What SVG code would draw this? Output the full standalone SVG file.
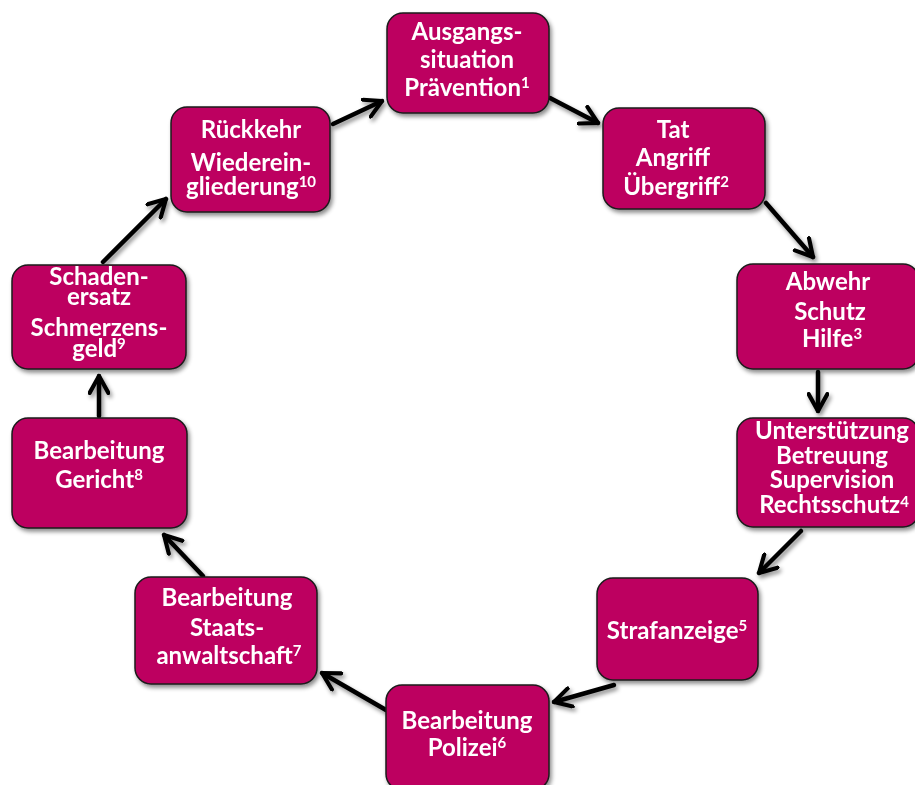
<svg xmlns="http://www.w3.org/2000/svg" width="915" height="785" viewBox="0 0 915 785">
<style>
.box{fill:#BD0060;stroke:#1a1a1a;stroke-width:1.5}
.t{font-family:Lato,"Open Sans","Liberation Sans",sans-serif;font-weight:bold;font-size:24px;fill:#fff;text-anchor:middle}
.s{font-size:15px}
.c{stroke:#000;stroke-width:4.5;fill:none;stroke-linecap:round}
</style>
<defs>
<filter id="sh" x="-10%" y="-10%" width="125%" height="125%">
<feDropShadow dx="2" dy="3" stdDeviation="2" flood-color="#000" flood-opacity="0.45"/>
</filter>
<marker id="ah" viewBox="0 0 12 12" refX="10" refY="6" markerWidth="5" markerHeight="5" orient="auto" markerUnits="strokeWidth">
<path d="M1,1 L10,6 L1,11" fill="none" stroke="#000" stroke-width="2.2" stroke-linecap="round" stroke-linejoin="round"/>
</marker>
</defs>
<g id="connectors" filter="url(#sh)">
<line class="c" x1="333" y1="124" x2="382" y2="101" marker-end="url(#ah)"/>
<line class="c" x1="550" y1="98" x2="598" y2="123" marker-end="url(#ah)"/>
<line class="c" x1="766" y1="203" x2="813" y2="257" marker-end="url(#ah)"/>
<line class="c" x1="818" y1="372" x2="818" y2="411" marker-end="url(#ah)"/>
<line class="c" x1="801" y1="531" x2="759" y2="573" marker-end="url(#ah)"/>
<line class="c" x1="614" y1="685" x2="554" y2="702" marker-end="url(#ah)"/>
<line class="c" x1="386" y1="710" x2="322" y2="673" marker-end="url(#ah)"/>
<line class="c" x1="203" y1="576" x2="164" y2="535" marker-end="url(#ah)"/>
<line class="c" x1="99" y1="416" x2="99" y2="376" marker-end="url(#ah)"/>
<line class="c" x1="103" y1="262" x2="166" y2="199" marker-end="url(#ah)"/>
</g>
<g id="n1" filter="url(#sh)"><rect class="box" x="387" y="13" width="162" height="100" rx="16"/>
<text class="t"><tspan x="467" y="40">Ausgangs-</tspan><tspan x="467" y="68">situation</tspan><tspan x="467" y="96">Prävention<tspan class="s" dy="-8">1</tspan></tspan></text></g>
<g id="n2" filter="url(#sh)"><rect class="box" x="603" y="108" width="162" height="101" rx="16"/>
<text class="t"><tspan x="673" y="138">Tat</tspan><tspan x="673" y="166">Angriff</tspan><tspan x="676" y="195">Übergriff<tspan class="s" dy="-8">2</tspan></tspan></text></g>
<g id="n3" filter="url(#sh)"><rect class="box" x="737" y="264" width="182" height="105" rx="16"/>
<text class="t"><tspan x="828" y="290">Abwehr</tspan><tspan x="830" y="320">Schutz</tspan><tspan x="832" y="347">Hilfe<tspan class="s" dy="-8">3</tspan></tspan></text></g>
<g id="n4" filter="url(#sh)"><rect class="box" x="737" y="418" width="182" height="109" rx="16"/>
<text class="t"><tspan x="832" y="439">Unterstützung</tspan><tspan x="832" y="464">Betreuung</tspan><tspan x="832" y="488">Supervision</tspan><tspan x="834" y="513">Rechtsschutz<tspan class="s" dy="-6">4</tspan></tspan></text></g>
<g id="n5" filter="url(#sh)"><rect class="box" x="597" y="578" width="161" height="102" rx="16"/>
<text class="t"><tspan x="677" y="639">Strafanzeige<tspan class="s" dy="-8">5</tspan></tspan></text></g>
<g id="n6" filter="url(#sh)"><rect class="box" x="386" y="685" width="163" height="105" rx="16"/>
<text class="t"><tspan x="467" y="729">Bearbeitung</tspan><tspan x="467" y="756">Polizei<tspan class="s" dy="-8">6</tspan></tspan></text></g>
<g id="n7" filter="url(#sh)"><rect class="box" x="135" y="577" width="182" height="107" rx="16"/>
<text class="t"><tspan x="227" y="606">Bearbeitung</tspan><tspan x="227" y="636">Staats-</tspan><tspan x="229" y="664">anwaltschaft<tspan class="s" dy="-8">7</tspan></tspan></text></g>
<g id="n8" filter="url(#sh)"><rect class="box" x="12" y="418" width="175" height="110" rx="16"/>
<text class="t"><tspan x="99" y="459">Bearbeitung</tspan><tspan x="99" y="488">Gericht<tspan class="s" dy="-8">8</tspan></tspan></text></g>
<g id="n9" filter="url(#sh)"><rect class="box" x="12" y="265" width="174" height="104" rx="16"/>
<text class="t"><tspan x="99" y="285">Schaden-</tspan><tspan x="99" y="305">ersatz</tspan><tspan x="99" y="336">Schmerzens-</tspan><tspan x="99" y="357">geld<tspan class="s" dy="-8">9</tspan></tspan></text></g>
<g id="n10" filter="url(#sh)"><rect class="box" x="171" y="107" width="159" height="105" rx="16"/>
<text class="t"><tspan x="251" y="138">Rückkehr</tspan><tspan x="251" y="171">Wiederein-</tspan><tspan x="251" y="195">gliederung<tspan class="s" dy="-8">10</tspan></tspan></text></g>
</svg>
